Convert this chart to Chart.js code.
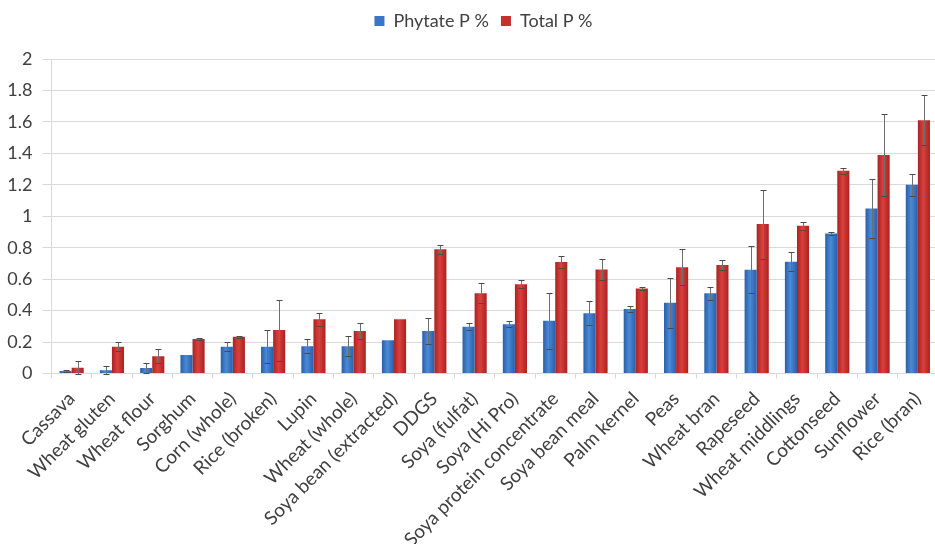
<!DOCTYPE html>
<html>
<head>
<meta charset="utf-8">
<script src="https://cdn.jsdelivr.net/npm/chart.js@4.4.1/dist/chart.umd.min.js"></script>
<style>
  html, body { margin: 0; padding: 0; background: #fff; overflow: hidden; }
  #wrap { width: 943px; height: 544px; }
</style>
</head>
<body>
<div id="wrap"><canvas id="c" width="943" height="544"></canvas></div>
<script>
// Feed ingredients, ordered by total phosphorus
const categories = [
  'Cassava', 'Wheat gluten', 'Wheat flour', 'Sorghum', 'Corn (whole)', 'Rice (broken)',
  'Lupin', 'Wheat (whole)', 'Soya bean (extracted)', 'DDGS', 'Soya (fulfat)', 'Soya (Hi Pro)',
  'Soya protein concentrate', 'Soya bean meal', 'Palm kernel', 'Peas', 'Wheat bran',
  'Rapeseed', 'Wheat middlings', 'Cottonseed', 'Sunflower', 'Rice (bran)'
];

// Phytate P (% of feed) and its standard deviation
const phytateP = [0.016, 0.02, 0.035, 0.117, 0.17, 0.17, 0.174, 0.174, 0.212, 0.27, 0.297, 0.313,
                  0.335, 0.383, 0.41, 0.45, 0.51, 0.66, 0.71, 0.89, 1.05, 1.20];
const phytateSD = [0.005, 0.027, 0.03, 0, 0.03, 0.106, 0.044, 0.063, 0, 0.08, 0.023, 0.02,
                   0.177, 0.077, 0.02, 0.16, 0.04, 0.15, 0.06, 0.01, 0.19, 0.07];

// Total P (% of feed) and its standard deviation
const totalP = [0.037, 0.17, 0.11, 0.22, 0.233, 0.276, 0.345, 0.27, 0.345, 0.79, 0.51, 0.567,
                0.709, 0.662, 0.54, 0.675, 0.69, 0.95, 0.94, 1.29, 1.39, 1.61];
const totalSD = [0.042, 0.03, 0.045, 0.005, 0.005, 0.194, 0.041, 0.05, 0, 0.03, 0.063, 0.026,
                 0.036, 0.068, 0.01, 0.115, 0.03, 0.22, 0.025, 0.02, 0.26, 0.16];

const yTicks = [0, 0.2, 0.4, 0.6, 0.8, 1, 1.2, 1.4, 1.6, 1.8, 2];

const FONT = 'Lato, "Open Sans", sans-serif';
const TEXT = '#404040';
const GRID = '#d9d9d9';

// Bar shading: darker edges, lighter middle
const shades = [
  ['#2a5ea8', '#4a8ad6', '#2a5ea8'],
  ['#a92222', '#d9403c', '#a92222']
];

const barShading = {
  id: 'barShading',
  beforeDatasetsDraw(chart) {
    const ctx = chart.ctx;
    chart.data.datasets.forEach((ds, di) => {
      const meta = chart.getDatasetMeta(di);
      const s = shades[di];
      meta.data.forEach(el => {
        const p = el.getProps(['x', 'width'], true);
        const g = ctx.createLinearGradient(p.x - p.width / 2, 0, p.x + p.width / 2, 0);
        g.addColorStop(0, s[0]);
        g.addColorStop(0.45, s[1]);
        g.addColorStop(1, s[2]);
        el.options = Object.assign({}, el.options, { backgroundColor: g });
      });
    });
  }
};

// Standard-deviation whiskers drawn on top of each bar
const errorBars = {
  id: 'errorBars',
  afterDatasetsDraw(chart) {
    const ctx = chart.ctx;
    const y = chart.scales.y;
    const sds = [phytateSD, totalSD];
    ctx.save();
    ctx.lineWidth = 1;
    chart.data.datasets.forEach((ds, di) => {
      const meta = chart.getDatasetMeta(di);
      meta.data.forEach((el, i) => {
        const sd = sds[di][i];
        if (!sd) return;
        const v = ds.data[i];
        const x = Math.round(el.getProps(['x'], true).x) + 0.5;
        const yt = Math.round(y.getPixelForValue(v + sd)) + 0.5;
        const yb = Math.round(y.getPixelForValue(Math.max(0, v - sd))) + 0.5;
        ctx.strokeStyle = '#6e6e6e';
        ctx.beginPath();
        ctx.moveTo(x, yt);
        ctx.lineTo(x, yb);
        ctx.stroke();
        ctx.strokeStyle = '#4a4a4a';
        ctx.beginPath();
        ctx.moveTo(x - 3, yt);
        ctx.lineTo(x + 3, yt);
        ctx.moveTo(x - 3, yb);
        ctx.lineTo(x + 3, yb);
        ctx.stroke();
      });
    });
    ctx.restore();
  }
};

// Extra room under the legend, and legend centred slightly right of the canvas middle
const legendSpacing = {
  id: 'legendSpacing',
  beforeInit(chart) {
    const fit = chart.legend.fit;
    chart.legend.fit = function () {
      fit.call(this);
      this.height += 19;
    };
  },
  afterLayout(chart) {
    chart.legend.left += 12;
    chart.legend.right += 12;
  }
};

new Chart(document.getElementById('c'), {
  type: 'bar',
  data: {
    labels: categories,
    datasets: [
      { label: 'Phytate P %', data: phytateP, backgroundColor: '#3a76c4', borderWidth: 0 },
      { label: 'Total P %', data: totalP, backgroundColor: '#c4302c', borderWidth: 0 }
    ]
  },
  options: {
    responsive: false,
    animation: false,
    events: [],
    layout: { padding: 0 },
    datasets: { bar: { categoryPercentage: 0.6, barPercentage: 1.0 } },
    plugins: {
      legend: {
        position: 'top',
        labels: {
          font: { family: FONT, size: 18 },
          color: TEXT,
          boxWidth: 10,
          boxHeight: 10,
          padding: 12
        }
      },
      tooltip: { enabled: false }
    },
    scales: {
      x: {
        grid: { display: true, drawOnChartArea: false, drawTicks: true, tickLength: 5, color: GRID, offset: true },
        border: { color: GRID },
        ticks: {
          font: { family: FONT, size: 19 },
          color: TEXT,
          minRotation: 45,
          maxRotation: 45,
          autoSkip: false,
          padding: 9
        },
        afterFit(scale) { scale.height = 170.5; }
      },
      y: {
        min: 0,
        max: 2,
        afterBuildTicks(scale) { scale.ticks = yTicks.map(v => ({ value: v })); },
        grid: { color: GRID, tickLength: 9 },
        border: { color: GRID },
        ticks: {
          font: { family: FONT, size: 18 },
          color: TEXT,
          padding: 10,
          callback: v => String(v)
        },
        afterFit(scale) { scale.width = 51.5; }
      }
    }
  },
  plugins: [barShading, errorBars, legendSpacing]
});
</script>
</body>
</html>
